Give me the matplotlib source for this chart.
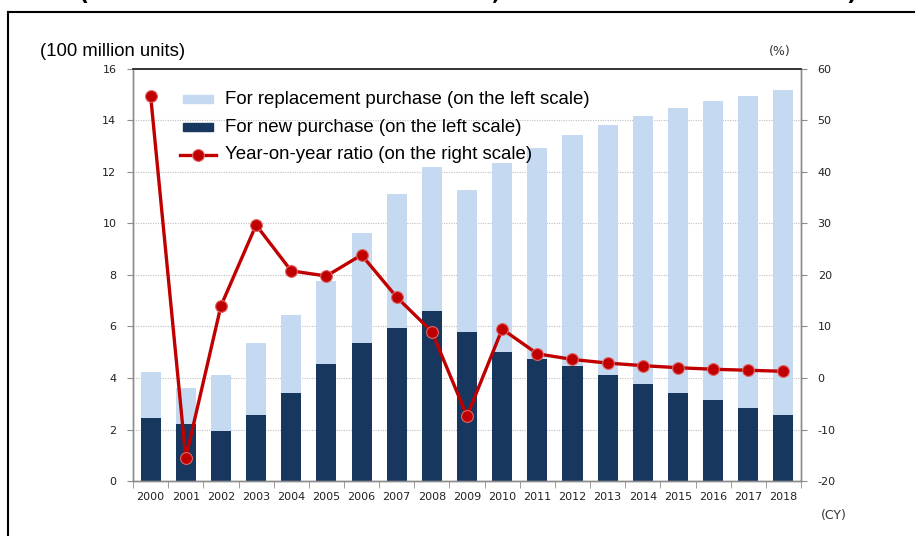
import numpy as np
import matplotlib.pyplot as plt
from matplotlib.patches import Rectangle

plt.rcParams['axes.unicode_minus'] = False

years = [str(y) for y in range(2000, 2019)]
# totals (100 million units) and the new-purchase part
total = [4.24, 3.60, 4.12, 5.37, 6.45, 7.78, 9.65, 11.16, 12.20, 11.30,
         12.36, 12.92, 13.44, 13.83, 14.17, 14.48, 14.74, 14.96, 15.18]
new_purchase = [2.43, 2.21, 1.95, 2.56, 3.43, 4.56, 5.37, 5.93, 6.60, 5.77,
                5.00, 4.73, 4.45, 4.10, 3.75, 3.43, 3.14, 2.82, 2.56]
replacement = [t - n for t, n in zip(total, new_purchase)]
yoy = [54.8, -15.5, 14.0, 29.7, 20.8, 19.8, 23.9, 15.7, 9.0, -7.4,
       9.5, 4.7, 3.6, 2.9, 2.4, 2.0, 1.7, 1.5, 1.3]

light = '#C5D9F1'
dark = '#17375E'
red = '#C00000'
grey = '#8C8C8C'

fig = plt.figure(figsize=(9.15, 5.36), dpi=100)
ax = fig.add_axes([0.1454, 0.1026, 0.73, 0.7687])
ax2 = ax.twinx()

x = np.arange(len(years))
ax.bar(x, new_purchase, width=0.57, color=dark, zorder=2)
ax.bar(x, replacement, width=0.57, bottom=new_purchase, color=light, zorder=2)

ax.set_xlim(-0.5, len(years) - 0.5)
ax.set_ylim(0, 16)
ax.set_yticks(range(0, 17, 2))
ax.yaxis.grid(True, linestyle=(0, (1, 1.2)), color='#BFBFBF', linewidth=0.8, zorder=0)
ax.set_axisbelow(True)

ax.set_xticks(x)
ax.set_xticklabels(years)
ax.set_xticks(np.arange(-0.5, len(years), 1), minor=True)
ax.tick_params(axis='x', which='major', length=0, pad=8, labelsize=8, labelcolor='#222222')
ax.tick_params(axis='x', which='minor', length=5, color=grey, direction='out')
ax.tick_params(axis='y', length=4, color=grey, labelsize=8, labelcolor='#222222', pad=8)

ax2.plot(x, yoy, color=red, lw=2.4, marker='o', ms=8.5, mfc=red,
         mec='#E06666', mew=0.8, zorder=5)
ax2.set_ylim(-20, 60)
ax2.set_yticks(range(-20, 61, 10))
ax2.tick_params(axis='y', length=4, color=grey, labelsize=8, labelcolor='#222222', pad=8)

for a in (ax, ax2):
    for side in ('left', 'right', 'bottom'):
        a.spines[side].set_color(grey)
        a.spines[side].set_linewidth(1.0)
    a.spines['top'].set_color('#333333')
    a.spines['top'].set_linewidth(1.2)

# legend drawn by hand
lx, ly = 0.2, [0.815, 0.763, 0.711]
labels = ['For replacement purchase (on the left scale)',
          'For new purchase (on the left scale)',
          'Year-on-year ratio (on the right scale)']
for c, yy in zip([light, dark], ly[:2]):
    fig.add_artist(Rectangle((lx, yy - 0.008), 0.033, 0.016, color=c,
                             transform=fig.transFigure))
fig.add_artist(plt.Line2D([lx - 0.003, lx + 0.036], [ly[2], ly[2]], color=red, lw=2.4,
                          transform=fig.transFigure))
fig.add_artist(plt.Line2D([lx + 0.0165], [ly[2]], marker='o', ms=8.5, color=red,
                          mec='#E06666', mew=0.8, transform=fig.transFigure))
for t, yy in zip(labels, ly):
    fig.text(lx + 0.046, yy, t, family='Liberation Sans', fontsize=13.4, va='center')

fig.text(0.044, 0.903, '(100 million units)', family='Liberation Sans', fontsize=13.3, va='center')
fig.text(0.84, 0.903, '(%)', fontsize=9, va='center', color='#333333')
fig.text(0.897, 0.038, '(CY)', fontsize=9, va='center', color='#333333')

# frame around the chart and the clipped heading above it
fig.add_artist(plt.Line2D([0.009, 0.009], [0, 0.978], color='black', lw=1.5,
                          transform=fig.transFigure))
fig.add_artist(plt.Line2D([0.009, 1.0], [0.978, 0.978], color='black', lw=1.5,
                          transform=fig.transFigure))
fig.text(0.085, 1.012, '(', fontsize=16, weight='bold', va='center')
fig.text(0.538, 1.012, ',', fontsize=16, weight='bold', va='center')
fig.text(0.925, 1.012, ')', fontsize=16, weight='bold', va='center')

fig.savefig('out.png', dpi=100)
